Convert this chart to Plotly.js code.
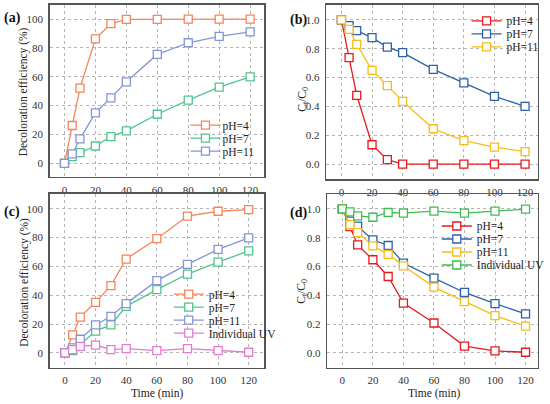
<!DOCTYPE html>
<html><head><meta charset="utf-8">
<script src="https://cdn.plot.ly/plotly-3.0.1.min.js"></script>
<style>html,body{margin:0;padding:0;background:#fff}#chart{width:550px;height:404px}</style>
</head><body><div id="chart"></div>
<script>
const time = [0, 5, 10, 20, 30, 40, 60, 80, 100, 120];
const xTicks = [0, 20, 40, 60, 80, 100, 120];
const effTicks = [0, 20, 40, 60, 80, 100];
const ratioTicks = [0, 0.2, 0.4, 0.6, 0.8, 1.0];
const ratioTickText = ['0.0', '0.2', '0.4', '0.6', '0.8', '1.0'];
const seriesNames = ['pH=4', 'pH=7', 'pH=11', 'Individual UV'];
const effTitle = 'Decoloration efficiency (%)';
const ratioTitle = 'C<sub>t</sub>/C<sub>0</sub>';
const timeTitle = 'Time (min)';
const panelLabels = ['(a)', '(b)', '(c)', '(d)'];

const a_pH4 = [0, 26.2, 52.1, 86.3, 96.8, 99.8, 99.8, 100, 100, 100];
const a_pH7 = [0, 4.6, 7.4, 12.0, 18.5, 22.5, 34.0, 43.8, 52.8, 60.0];
const a_pH11 = [0, 6.5, 16.9, 35.0, 45.4, 56.5, 75.5, 83.6, 88.0, 91.2];

const b_pH4 = [1.0, 0.738, 0.477, 0.134, 0.030, 0.0, 0.0, 0.0, 0.0, 0.0];
const b_pH7 = [1.0, 0.960, 0.926, 0.877, 0.812, 0.773, 0.657, 0.563, 0.470, 0.400];
const b_pH11 = [1.0, 0.935, 0.831, 0.650, 0.544, 0.435, 0.245, 0.162, 0.118, 0.086];

const c_pH4 = [0, 12.5, 24.9, 35.1, 46.7, 65.1, 79.2, 94.9, 98.2, 99.3];
const c_pH7 = [0, 1.6, 5.8, 15.2, 19.4, 32.3, 43.9, 54.7, 63.0, 70.7];
const c_pH11 = [0, 3.5, 9.5, 19.4, 25.4, 34.2, 50.1, 61.4, 71.8, 79.7];
const c_UV = [0, 2.3, 4.6, 5.5, 2.3, 3.0, 1.6, 3.0, 1.6, 0.5];

const d_pH4 = [1.0, 0.877, 0.750, 0.647, 0.531, 0.346, 0.208, 0.048, 0.014, 0.005];
const d_pH7 = [1.0, 0.915, 0.880, 0.785, 0.746, 0.624, 0.520, 0.420, 0.342, 0.272];
const d_pH11 = [1.0, 0.891, 0.836, 0.744, 0.684, 0.605, 0.457, 0.356, 0.259, 0.187];
const d_UV = [1.0, 0.979, 0.952, 0.942, 0.975, 0.970, 0.984, 0.970, 0.984, 0.998];

const softColors = ['#F7845A', '#52C48F', '#8496D6', '#E57BD2'];
const vividColors = ['#E8191F', '#2D62A8', '#F7BC1A', '#3DBE55'];

const FONT = '"Liberation Serif", "Times New Roman", Times, serif';
const W = 550, H = 404;

function tr(y, name, color, xa, ya, legend) {
  return {
    x: time, y: y, name: name, type: 'scatter', mode: 'lines+markers',
    xaxis: xa, yaxis: ya, legend: legend,
    line: {color: color, width: 1.3},
    marker: {symbol: 'square', size: 8, color: '#ffffff', line: {color: color, width: 1.3}},
    cliponaxis: false
  };
}

const data = [
  tr(a_pH4, seriesNames[0], softColors[0], 'x', 'y', 'legend'),
  tr(a_pH7, seriesNames[1], softColors[1], 'x', 'y', 'legend'),
  tr(a_pH11, seriesNames[2], softColors[2], 'x', 'y', 'legend'),
  tr(b_pH4, seriesNames[0], vividColors[0], 'x2', 'y2', 'legend2'),
  tr(b_pH7, seriesNames[1], vividColors[1], 'x2', 'y2', 'legend2'),
  tr(b_pH11, seriesNames[2], vividColors[2], 'x2', 'y2', 'legend2'),
  tr(c_pH4, seriesNames[0], softColors[0], 'x3', 'y3', 'legend3'),
  tr(c_pH7, seriesNames[1], softColors[1], 'x3', 'y3', 'legend3'),
  tr(c_pH11, seriesNames[2], softColors[2], 'x3', 'y3', 'legend3'),
  tr(c_UV, seriesNames[3], softColors[3], 'x3', 'y3', 'legend3'),
  tr(d_pH4, seriesNames[0], vividColors[0], 'x4', 'y4', 'legend4'),
  tr(d_pH7, seriesNames[1], vividColors[1], 'x4', 'y4', 'legend4'),
  tr(d_pH11, seriesNames[2], vividColors[2], 'x4', 'y4', 'legend4'),
  tr(d_UV, seriesNames[3], vividColors[3], 'x4', 'y4', 'legend4')
];

function xax(domain, range, anchor) {
  return {
    domain: domain, range: range, anchor: anchor,
    tickmode: 'array', tickvals: xTicks,
    showgrid: true, gridcolor: '#b5b5b5', griddash: 'dot', gridwidth: 1,
    zeroline: false, showline: true, mirror: true, linecolor: '#555', linewidth: 1.5,
    ticks: '', ticklabelstandoff: 2,
    tickfont: {family: FONT, size: 11, color: '#333'}
  };
}
function yax(domain, range, anchor, ticks, ticktext) {
  const o = {
    domain: domain, range: range, anchor: anchor,
    tickmode: 'array', tickvals: ticks,
    showgrid: true, gridcolor: '#b5b5b5', griddash: 'dot', gridwidth: 1,
    zeroline: false, showline: true, mirror: true, linecolor: '#555', linewidth: 1.5,
    ticks: '', ticklabelstandoff: 3,
    tickfont: {family: FONT, size: 11, color: '#333'}
  };
  if (ticktext) o.ticktext = ticktext;
  return o;
}
function leg(x, y) {
  return {x: x, y: y, xanchor: 'left', yanchor: 'top', bgcolor: 'rgba(0,0,0,0)',
    font: {family: FONT, size: 11.5, color: '#222'}, borderwidth: 0, tracegroupgap: 0};
}
function ann(text, px, py, size, angle, bold) {
  return {text: bold ? '<b>' + text + '</b>' : text, x: px / W, y: 1 - py / H,
    xref: 'paper', yref: 'paper', showarrow: false, textangle: angle || 0,
    xanchor: 'center', yanchor: 'middle',
    font: {family: FONT, size: size, color: bold ? '#111' : '#222'}};
}

const layout = {
  width: W, height: H,
  margin: {l: 0, r: 0, t: 0, b: 0},
  paper_bgcolor: '#fff', plot_bgcolor: '#fff',
  showlegend: true,
  xaxis: xax([0.0909, 0.4836], [-9.6, 129], 'y'),
  yaxis: yax([0.5619, 0.9884], [-9.5, 110], 'x', effTicks, null),
  xaxis2: xax([0.5973, 0.9849], [-10, 128.3], 'y2'),
  yaxis2: yax([0.5569, 0.9884], [-0.104, 1.106], 'x2', ratioTicks, ratioTickText),
  xaxis3: xax([0.0909, 0.4836], [-10, 130], 'y3'),
  yaxis3: yax([0.0899, 0.521], [-10.2, 110.5], 'x3', effTicks, null),
  xaxis4: xax([0.5991, 0.9849], [-10, 128], 'y4'),
  yaxis4: yax([0.0899, 0.5186], [-0.102, 1.1], 'x4', ratioTicks, ratioTickText),
  legend: leg(0.3397, 0.726),
  legend2: leg(0.8545, 0.984),
  legend3: leg(0.309, 0.308),
  legend4: leg(0.80, 0.4765),
  annotations: [
    ann(panelLabels[0], 13, 18, 14, 0, true),
    ann(panelLabels[1], 301, 20, 14, 0, true),
    ann(panelLabels[2], 12, 212, 14, 0, true),
    ann(panelLabels[3], 301, 213, 14, 0, true),
    ann(effTitle, 24, 91.5, 11.5, -90),
    ann(effTitle, 24, 282, 11.5, -90),
    ann(ratioTitle, 305, 99, 11.5, -90),
    ann(ratioTitle, 304, 291, 11.5, -90),
    ann(timeTitle, 158, 393.5, 11.5, 0),
    ann(timeTitle, 437, 393.5, 11.5, 0)
  ]
};

Plotly.newPlot('chart', data, layout, {staticPlot: true, displayModeBar: false}).then(gd => {
  // tighten legend rows (about 13 px apart) and pull text closer to the symbol
  gd.querySelectorAll('g.legend, g.legend2, g.legend3, g.legend4').forEach(lg => {
    const items = lg.querySelectorAll('g.traces');
    let y0 = null;
    items.forEach((t, i) => {
      const m = (t.getAttribute('transform') || '').match(/translate\(\s*([-\d.e]+)[ ,]+([-\d.e]+)\s*\)/);
      if (!m) return;
      if (y0 === null) y0 = parseFloat(m[2]);
      t.setAttribute('transform', 'translate(' + m[1] + ',' + (y0 + i * 13) + ')');
      const txt = t.querySelector('text.legendtext');
      if (txt) txt.setAttribute('x', 37);
    });
  });
});
</script></body></html>
